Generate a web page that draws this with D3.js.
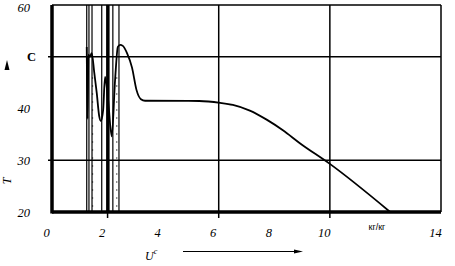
<!DOCTYPE html>
<html><head><meta charset="utf-8">
<script src="https://cdn.jsdelivr.net/npm/d3@7"></script>
<style>body{margin:0;background:#fff}svg{display:block}</style>
</head><body>
<script>
// Data
const xTicks = [0, 2, 4, 6, 8, 10, 12, 14];
const xTickLabels = ["0", "2", "4", "6", "8", "10", "кг/кг", "14"];
const yTicks = [20, 30, 40, 50, 60];
const yTickLabels = ["20", "30", "40", "C", "60"];
const xGrid = [2, 6, 10];
const yGrid = [30, 50];
const curveX = [1.25, 1.28, 1.31, 1.36, 1.43, 1.52, 1.61, 1.70, 1.76, 1.84, 1.91, 2.02, 2.15, 2.27, 2.37, 2.45, 2.55, 2.70, 2.88, 3.04, 3.20, 3.35, 5.30, 6.05, 6.51, 7.12, 7.74, 8.31, 8.92, 10.0, 12.16];
const curveT = [51.9, 38.0, 50.4, 50.0, 50.7, 47.0, 43.0, 38.5, 37.6, 39.7, 46.1, 41.6, 34.6, 45.5, 51.9, 52.3, 52.1, 50.7, 47.9, 43.6, 41.8, 41.5, 41.45, 41.1, 40.7, 39.6, 37.8, 35.8, 33.3, 29.3, 20.06];
const verticalSolid = [1.25, 1.33, 1.44, 1.79, 2.19, 2.41];
const verticalThick = [2.01];
const verticalDotted = [1.46, 2.33];

const W = 455, H = 266;
const svg = d3.select("body").append("svg").attr("width", W).attr("height", H);
const x = d3.scaleLinear().domain([0, 14]).range([52, 441]);
const y = d3.scaleLinear().domain([20, 60]).range([212, 5]);
const serif = "'Liberation Serif','DejaVu Serif',serif";

// frame top/right
svg.append("line").attr("x1", x(0)).attr("x2", x(14)).attr("y1", y(60)).attr("y2", y(60)).attr("stroke", "#000").attr("stroke-width", 1.5);
svg.append("line").attr("x1", x(14)).attr("x2", x(14)).attr("y1", y(60)).attr("y2", y(20)).attr("stroke", "#000").attr("stroke-width", 1.5);

// grids
svg.selectAll(".gx").data(xGrid).join("line").attr("x1", d => x(d)).attr("x2", d => x(d))
  .attr("y1", y(60)).attr("y2", y(20) + 6).attr("stroke", "#000").attr("stroke-width", 1.5);
svg.selectAll(".gy").data(yGrid).join("line").attr("y1", d => y(d)).attr("y2", d => y(d))
  .attr("x1", x(0) - 4).attr("x2", x(14)).attr("stroke", "#000").attr("stroke-width", 1.5);

// vertical marks
svg.selectAll(".vs").data(verticalSolid).join("line").attr("x1", d => x(d)).attr("x2", d => x(d))
  .attr("y1", y(60)).attr("y2", y(20)).attr("stroke", "#000").attr("stroke-width", 1.2);
svg.selectAll(".vt").data(verticalThick).join("line").attr("x1", d => x(d)).attr("x2", d => x(d))
  .attr("y1", y(60)).attr("y2", y(20)).attr("stroke", "#000").attr("stroke-width", 3.5);
svg.selectAll(".vd").data(verticalDotted).join("line").attr("x1", d => x(d)).attr("x2", d => x(d))
  .attr("y1", y(46)).attr("y2", y(20)).attr("stroke", "#000").attr("stroke-width", 1.2).attr("stroke-dasharray", "1,7");

// curve
const pts = curveX.map((v, i) => [v, curveT[i]]);
svg.append("path").datum(pts)
  .attr("d", d3.line().x(d => x(d[0])).y(d => y(d[1])).curve(d3.curveMonotoneX))
  .attr("fill", "none").attr("stroke", "#000").attr("stroke-width", 1.8);

// axes (thick)
const xAxis = d3.axisBottom(x).tickValues(xTicks).tickSize(0).tickFormat((d, i) => xTickLabels[i]);
const gx = svg.append("g").attr("transform", `translate(0,${y(20)})`).call(xAxis);
gx.select(".domain").attr("stroke-width", 3.5).attr("d", `M${x(0)},0H${x(14)}`);
gx.selectAll("text").attr("font-family", serif).attr("font-style", "italic").attr("font-size", 12.5)
  .attr("fill", "#000").attr("y", 16).attr("dx", -6).attr("dy", "0.71em");
gx.selectAll(".tick").filter(d => d === 12).select("text")
  .attr("font-size", 9).attr("font-style", "normal").attr("font-family", "'Liberation Sans',sans-serif").attr("y", 12).attr("dx", -9);

const yAxis = d3.axisLeft(y).tickValues(yTicks).tickSize(0).tickFormat((d, i) => yTickLabels[i]);
const gy = svg.append("g").attr("transform", `translate(${x(0)},0)`).call(yAxis);
gy.select(".domain").attr("stroke-width", 3.5).attr("d", `M0,${y(60)}V${y(20) + 1.5}`);
gy.selectAll("text").attr("font-family", serif).attr("font-style", "italic").attr("font-size", 12.5)
  .attr("fill", "#000").attr("x", -22);
gy.selectAll(".tick").filter(d => d === 60).select("text").attr("dy", "0.55em");
gy.selectAll(".tick").filter(d => d === 50).select("text")
  .attr("font-style", "normal").attr("font-weight", "bold").attr("x", -16);

// axis titles
svg.append("text").attr("transform", "translate(11,181) rotate(-90)").attr("text-anchor", "middle")
  .attr("font-family", serif).attr("font-style", "italic").attr("font-size", 12).text("T");
svg.append("path").attr("d", "M7,60 L4.5,70 L9.5,70 Z").attr("fill", "#000");

const xt = svg.append("text").attr("x", 145).attr("y", 260).attr("font-family", serif).attr("font-style", "italic").attr("font-size", 12);
xt.append("tspan").text("U");
xt.append("tspan").attr("font-size", 8).attr("dy", -6).text("c");
svg.append("line").attr("x1", 183).attr("x2", 296).attr("y1", 251.5).attr("y2", 251.5).attr("stroke", "#000").attr("stroke-width", 1.2);
svg.append("path").attr("d", "M294,249.5 L303,251.5 L294,253.5 Z").attr("fill", "#000");
</script>
</body></html>
